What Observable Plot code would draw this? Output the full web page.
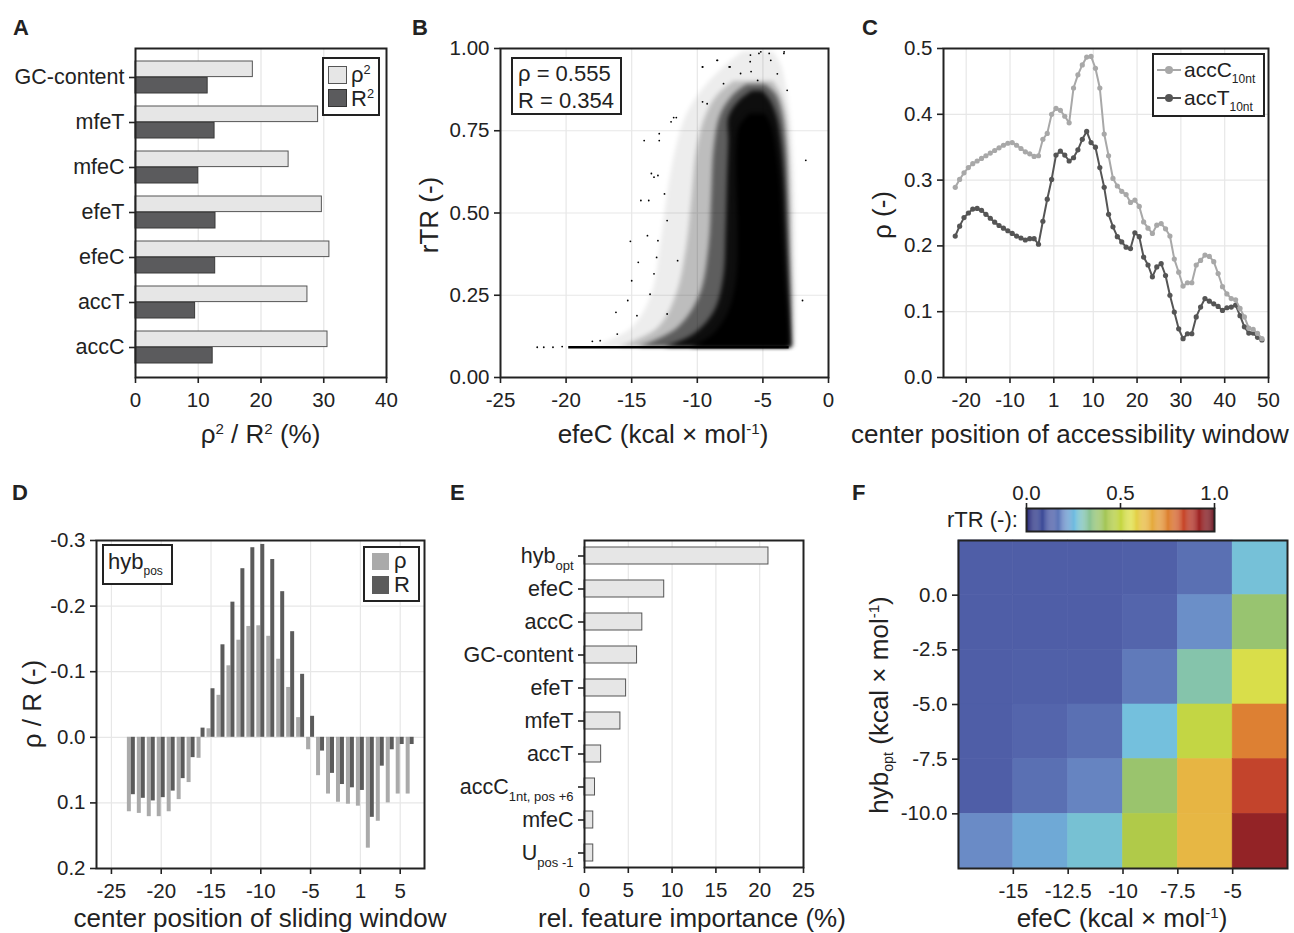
<!DOCTYPE html>
<html>
<head>
<meta charset="utf-8">
<script src="https://cdn.jsdelivr.net/npm/d3@7"></script>
<script src="https://cdn.jsdelivr.net/npm/@observablehq/plot@0.6"></script>
<style>
html,body{margin:0;padding:0;background:#fff}
#fig{position:relative;width:1294px;height:933px;overflow:hidden;font-family:"Liberation Sans",Arial,Helvetica,sans-serif;color:#222;background:#fff}
.t{position:absolute;white-space:nowrap;line-height:1}
.letter{font-size:22px;font-weight:bold}
.title{font-size:26px}
.leg{font-size:22px}
.box{position:absolute;border:2px solid #222;background:#fff;box-sizing:border-box}
.sw{position:absolute;box-sizing:border-box}
.sup{font-size:0.58em;position:relative;top:-0.62em}
.sub{font-size:0.55em;position:relative;top:0.35em}
</style>
</head>
<body>
<div id="fig"></div>
<script>
// ================= DATA =================
// Panel A
const aFeatures = ["GC-content","mfeT","mfeC","efeT","efeC","accT","accC"];
const aRho2 = [18.7, 29.1, 24.4, 29.7, 30.9, 27.4, 30.6];
const aR2   = [11.5, 12.6, 10.0, 12.75, 12.7, 9.5, 12.3];
const aTicks = [0, 10, 20, 30, 40];

// Panel B (point cloud read as density envelopes + individual stray points)
const bStats = ["ρ = 0.555", "R = 0.354"];
const bTicksX = [-25, -20, -15, -10, -5, 0];
const bTicksY = [0, 0.25, 0.5, 0.75, 1];
const bSparse = [
  {y:0.092,left:-18,right:-2.5},{y:0.15,left:-15,right:-2.45},{y:0.25,left:-13.5,right:-2.45},
  {y:0.4,left:-12.8,right:-2.5},{y:0.55,left:-12.3,right:-2.55},{y:0.7,left:-11.6,right:-2.7},
  {y:0.8,left:-10.8,right:-2.9},{y:0.88,left:-9.5,right:-3.2},{y:0.95,left:-7.8,right:-3.6},{y:0.99,left:-6.5,right:-4.2}
];
const bLight = [
  {y:0.092,left:-16,right:-2.65},{y:0.15,left:-13,right:-2.65},{y:0.25,left:-11.6,right:-2.7},
  {y:0.4,left:-10.8,right:-2.8},{y:0.55,left:-10.4,right:-2.85},{y:0.7,left:-10.0,right:-3.0},
  {y:0.8,left:-9.3,right:-3.2},{y:0.86,left:-8.4,right:-3.6},{y:0.9,left:-7.2,right:-4.2}
];
const bMedium = [
  {y:0.092,left:-14.5,right:-2.75},{y:0.15,left:-11.5,right:-2.8},{y:0.25,left:-9.8,right:-2.85},
  {y:0.4,left:-9.1,right:-2.95},{y:0.55,left:-8.9,right:-3.05},{y:0.7,left:-8.7,right:-3.2},
  {y:0.8,left:-8.2,right:-3.5},{y:0.86,left:-7.2,right:-4.0},{y:0.89,left:-6.2,right:-4.8}
];
const bDense = [
  {y:0.092,left:-12.5,right:-2.85},{y:0.13,left:-10.3,right:-2.9},{y:0.2,left:-8.7,right:-2.95},
  {y:0.3,left:-8.0,right:-3.05},{y:0.45,left:-7.8,right:-3.2},{y:0.6,left:-7.7,right:-3.35},
  {y:0.72,left:-7.6,right:-3.6},{y:0.79,left:-7.6,right:-3.9},{y:0.84,left:-6.8,right:-4.4},{y:0.87,left:-5.8,right:-5.0}
];
const bCore = [
  {y:0.092,left:-10.5,right:-3.0},{y:0.13,left:-8.8,right:-3.0},{y:0.2,left:-7.6,right:-3.1},
  {y:0.3,left:-7.0,right:-3.3},{y:0.45,left:-6.9,right:-3.5},{y:0.6,left:-7.0,right:-3.7},
  {y:0.7,left:-7.0,right:-4.0},{y:0.76,left:-6.8,right:-4.3},{y:0.8,left:-6.0,right:-4.8}
];
const bFloor = [{y:0.092, from:-19.8, to:-3}];
const bOutliers = [
  {x:-9.6,y:0.944},{x:-8.46,y:0.964},{x:-7.57,y:0.944},{x:-5.97,y:0.96},{x:-5.9,y:0.93},{x:-5.16,y:0.99},
  {x:-4.52,y:0.985},{x:-3.38,y:0.99},{x:-9.6,y:0.838},{x:-11.6,y:0.79},{x:-12.0,y:0.777},{x:-12.9,y:0.741},
  {x:-14.05,y:0.72},{x:-13.5,y:0.62},{x:-13.0,y:0.614},{x:-14.3,y:0.538},{x:-13.7,y:0.538},{x:-15.1,y:0.414},
  {x:-14.5,y:0.35},{x:-15.0,y:0.294},{x:-15.3,y:0.234},{x:-16.2,y:0.198},{x:-14.6,y:0.188},{x:-1.73,y:0.66},
  {x:-1.98,y:0.234},{x:-13.0,y:0.416},{x:-12.3,y:0.477},{x:-13.3,y:0.315},{x:-11.5,y:0.355},{x:-16.1,y:0.132},
  {x:-17.4,y:0.112},{x:-18.0,y:0.11},{x:-22.2,y:0.092},{x:-21.7,y:0.092},{x:-21.0,y:0.092},{x:-20.3,y:0.094},
  {x:-5.95,y:0.98},{x:-5.3,y:0.985},{x:-4.4,y:0.964},{x:-3.4,y:0.985},{x:-7.5,y:0.944},{x:-6.7,y:0.924},
  {x:-8.5,y:0.964},{x:-9.6,y:0.944},{x:-3.9,y:0.923},{x:-5.4,y:0.903},{x:-8.0,y:0.893},{x:-9.25,y:0.832},
  {x:-3.15,y:0.873},{x:-11.8,y:0.79},{x:-12.9,y:0.72},{x:-13.3,y:0.609},{x:-12.5,y:0.558},{x:-13.8,y:0.431},
  {x:-13.1,y:0.365},{x:-13.6,y:0.253},{x:-12.3,y:0.193}
];

// Panel C (axis index skips position 0)
const cTickIdx = [-20, -10, 0, 9, 19, 29, 39, 49];
const cTickLab = ["-20", "-10", "1", "10", "20", "30", "40", "50"];
const cAccC = [0.289,0.301,0.311,0.319,0.325,0.329,0.333,0.337,0.341,0.345,0.349,0.353,0.356,0.357,0.353,0.348,0.343,0.340,0.336,0.337,
  0.362,0.371,0.400,0.409,0.406,0.397,0.387,0.440,0.460,0.475,0.487,0.488,0.470,0.440,0.370,0.337,0.3025,0.291,0.283,0.278,
  0.266,0.2695,0.260,0.2365,0.227,0.219,0.2315,0.234,0.226,0.215,0.180,0.160,0.139,0.144,0.144,0.171,0.178,0.186,0.184,0.176,
  0.158,0.138,0.127,0.120,0.118,0.105,0.092,0.075,0.073,0.067,0.059];
const cAccT = [0.215,0.230,0.243,0.250,0.256,0.257,0.254,0.248,0.242,0.236,0.231,0.227,0.223,0.219,0.215,0.212,0.209,0.211,0.211,0.2025,
  0.2375,0.271,0.301,0.338,0.344,0.338,0.329,0.334,0.346,0.362,0.374,0.357,0.350,0.319,0.289,0.248,0.229,0.214,0.206,0.198,
  0.196,0.220,0.214,0.183,0.171,0.153,0.168,0.173,0.155,0.125,0.0995,0.074,0.059,0.0665,0.0665,0.092,0.107,0.120,0.116,0.112,
  0.108,0.102,0.106,0.107,0.110,0.094,0.077,0.0675,0.0675,0.061,0.057];
const cIndex = d3.range(-22.5, 48, 1);

// Panel D
const dPos = [-23,-22,-21,-20,-19,-18,-17,-16,-15,-14,-13,-12,-11,-10,-9,-8,-7,-6,-5,-4,-3,-2,-1,1,2,3,4,5,6];
const dRho = [0.1135,0.116,0.121,0.121,0.1135,0.095,0.069,0.032,-0.013,-0.064,-0.109,-0.148,-0.169,-0.170,-0.154,-0.119,-0.076,-0.030,
  0.019,0.0585,0.0865,0.099,0.102,0.105,0.169,0.128,0.100,0.0865,0.0865];
const dR = [0.0875,0.093,0.097,0.092,0.082,0.063,0.031,-0.014,-0.074,-0.141,-0.206,-0.257,-0.289,-0.294,-0.271,-0.222,-0.161,-0.096,
  -0.032,0.021,0.055,0.072,0.077,0.081,0.122,0.044,0.019,0.011,0.011];
const dTickIdx = [-25, -20, -15, -10, -5, 0, 4];
const dTickLab = ["-25", "-20", "-15", "-10", "-5", "1", "5"];
const dTicksY = [-0.3, -0.2, -0.1, 0, 0.1, 0.2];

// Panel E
const eFeatures = ["hyb_opt","efeC","accC","GC-content","efeT","mfeT","accT","accC_1nt, pos +6","mfeC","U_pos -1"];
const eImportance = [21.0, 9.1, 6.6, 6.0, 4.75, 4.1, 1.9, 1.2, 1.0, 1.0];
const eTicks = [0, 5, 10, 15, 20, 25];

// Panel F
const fEfeC = [-17.5, -15, -12.5, -10, -7.5, -5];       // bin lower edges
const fHyb = [0, -2.5, -5, -7.5, -10, -12.5];           // bin lower edges, top row first
const fRTR = [
  [0.13, 0.13, 0.13, 0.135, 0.16, 0.27],
  [0.13, 0.13, 0.13, 0.145, 0.205, 0.38],
  [0.13, 0.135, 0.135, 0.175, 0.315, 0.545],
  [0.13, 0.145, 0.16, 0.265, 0.50, 0.76],
  [0.13, 0.16, 0.19, 0.385, 0.645, 0.85],
  [0.20, 0.234, 0.275, 0.455, 0.64, 0.94]
];
const fTicksX = [-15, -12.5, -10, -7.5, -5];
const fTicksY = [0, -2.5, -5, -7.5, -10];
const cmapStops = [0, 0.07, 0.14, 0.20, 0.26, 0.31, 0.38, 0.45, 0.50, 0.56, 0.62, 0.70, 0.77, 0.84, 0.92, 1.0];
const cmapColors = ["#2a2a78","#3a4794","#5262aa","#6a8bc6","#72c0e2","#84c4b0","#98c470","#aec94a","#c3d644","#e0e04c",
  "#e8bf46","#e4a03c","#dc7b32","#c8482c","#a02828","#6a1420"];

// ================= HELPERS =================
const FONT = '"Liberation Sans", Arial, Helvetica, sans-serif';
const INK = "#222";
const GRID = "#e7e7e7";
const fig = document.getElementById("fig");

function panel(opts, frame, box) {
  const [fx1, fx2, fy1, fy2] = frame;
  const [L, T, W, H] = box;
  const svg = Plot.plot(Object.assign({}, opts, {
    width: W, height: H,
    marginLeft: fx1 - L, marginRight: L + W - fx2,
    marginTop: fy1 - T, marginBottom: T + H - fy2,
    style: {fontFamily: FONT, fontSize: "20.5px", color: INK, background: "transparent", overflow: "visible"}
  }));
  svg.style.position = "absolute";
  svg.style.left = L + "px";
  svg.style.top = T + "px";
  fig.appendChild(svg);
  return svg;
}
function div(inner, style, cls) {
  const d = document.createElement("div");
  d.className = cls || "t";
  d.innerHTML = inner;
  Object.assign(d.style, style);
  fig.appendChild(d);
  return d;
}
const px = v => v + "px";
const fmtInt = d => String(d);
const fmt1 = d => d.toFixed(1);
const fmt2 = d => d.toFixed(2);
const axX = (o) => Plot.axisX(Object.assign({tickSize: 6, tickPadding: 9, label: null, fontSize: 20.5, strokeWidth: 1.6}, o));
const axY = (o) => Plot.axisY(Object.assign({tickSize: 6, tickPadding: 5, label: null, fontSize: 20.5, strokeWidth: 1.6}, o));
const frameMark = () => Plot.frame({stroke: INK, strokeWidth: 2});

// ================= PANEL A =================
const aRows = aFeatures.map((f, i) => ({feature: f, rho2: aRho2[i], R2: aR2[i]}));
panel({
  x: {domain: [0, 40]},
  y: {domain: aFeatures, paddingInner: 0.28, paddingOuter: 0.25},
  marks: [
    Plot.gridX([10, 20, 30], {stroke: GRID, strokeOpacity: 1, strokeWidth: 1.3}),
    Plot.barX(aRows, {y: "feature", x: "rho2", fill: "#e6e6e6", stroke: "#555", strokeWidth: 1, insetBottom: 16.4}),
    Plot.barX(aRows, {y: "feature", x: "R2", fill: "#5b5b5d", stroke: "#3a3a3a", strokeWidth: 1, insetTop: 16.4}),
    axX({ticks: aTicks, tickFormat: fmtInt}),
    axY({fontSize: 21.5}),
    frameMark()
  ]
}, [135, 386, 48, 377], [0, 30, 410, 400]);

// ================= PANEL B =================
const bLayers = [[bSparse, 0.07], [bLight, 0.2], [bMedium, 0.5], [bDense, 0.85], [bCore, 1]];
const bSvg = panel({
  x: {domain: [-25, 0]},
  y: {domain: [0, 1]},
  marks: [
    Plot.gridX([-20, -15, -10, -5], {stroke: GRID, strokeOpacity: 1, strokeWidth: 1.2}),
    Plot.gridY([0.25, 0.5, 0.75], {stroke: GRID, strokeOpacity: 1, strokeWidth: 1.2}),
    ...bLayers.map(([rows, op]) => Plot.areaX(rows, {y: "y", x1: "left", x2: "right", fill: "#000", fillOpacity: op, curve: "catmull-rom"})),
    Plot.ruleY(bFloor, {y: "y", x1: "from", x2: "to", stroke: "#000", strokeWidth: 2.5}),
    Plot.dot(bOutliers, {x: "x", y: "y", r: 0.9, fill: "#000"}),
    axX({ticks: bTicksX, tickFormat: fmtInt}),
    axY({ticks: bTicksY, tickFormat: fmt2}),
    frameMark()
  ]
}, [500, 828, 48, 377], [420, 30, 430, 400]);
bSvg.querySelectorAll('g[aria-label="area"]').forEach(g => g.style.filter = "blur(2.2px)");

// ================= PANEL C =================
const cRows = cIndex.map((i, k) => ({i, accC: cAccC[k], accT: cAccT[k]}));
panel({
  x: {domain: [-25.18, 49]},
  y: {domain: [0, 0.5]},
  marks: [
    Plot.gridX(cTickIdx.slice(0, -1), {stroke: GRID, strokeOpacity: 1, strokeWidth: 1.2}),
    Plot.gridY([0.1, 0.2, 0.3, 0.4], {stroke: GRID, strokeOpacity: 1, strokeWidth: 1.2}),
    Plot.line(cRows, {x: "i", y: "accT", stroke: "#555", strokeWidth: 2}),
    Plot.dot(cRows, {x: "i", y: "accT", fill: "#555", r: 2.6}),
    Plot.line(cRows, {x: "i", y: "accC", stroke: "#a8a8a8", strokeWidth: 2}),
    Plot.dot(cRows, {x: "i", y: "accC", fill: "#a8a8a8", r: 2.6}),
    axX({ticks: cTickIdx, tickFormat: d => cTickLab[cTickIdx.indexOf(d)]}),
    axY({ticks: [0, 0.1, 0.2, 0.3, 0.4, 0.5], tickFormat: fmt1}),
    frameMark()
  ]
}, [943, 1268, 48, 377], [860, 30, 434, 400]);

// ================= PANEL D =================
const dIdx = p => (p < 0 ? p : p - 1);
const dRows = dPos.map((p, k) => ({x: dIdx(p), rho: dRho[k], R: dR[k]}));
panel({
  x: {domain: [-26.5, 6.44]},
  y: {domain: [0.2, -0.3]},
  marks: [
    Plot.gridX(dTickIdx, {stroke: GRID, strokeOpacity: 1, strokeWidth: 1.2}),
    Plot.gridY(dTicksY, {stroke: GRID, strokeOpacity: 1, strokeWidth: 1.2}),
    Plot.rect(dRows, {x1: d => d.x - 0.4, x2: d => d.x, y1: () => 0, y2: "rho", fill: "#aaaaaa"}),
    Plot.rect(dRows, {x1: d => d.x, x2: d => d.x + 0.4, y1: () => 0, y2: "R", fill: "#5b5b5b"}),
    axX({ticks: dTickIdx, tickFormat: d => dTickLab[dTickIdx.indexOf(d)]}),
    axY({ticks: dTicksY, tickFormat: fmt1}),
    frameMark()
  ]
}, [96, 424, 540, 868], [0, 520, 440, 400]);

// ================= PANEL E =================
const eRows = eFeatures.map((f, i) => ({feature: f, imp: eImportance[i]}));
const eSvg = panel({
  x: {domain: [0, 25]},
  y: {domain: eFeatures, paddingInner: 0.5, paddingOuter: 0.2},
  marks: [
    Plot.gridX([5, 10, 15, 20], {stroke: GRID, strokeOpacity: 1, strokeWidth: 1.2}),
    Plot.barX(eRows, {y: "feature", x: "imp", fill: "#e6e6e6", stroke: "#555", strokeWidth: 1}),
    axX({ticks: eTicks, tickFormat: fmtInt}),
    axY({fontSize: 21.5}),
    frameMark()
  ]
}, [584, 803, 540, 867], [440, 520, 400, 400]);
eSvg.querySelectorAll("text").forEach(t => {
  const s = t.textContent;
  const k = s.indexOf("_");
  if (k < 0) return;
  t.textContent = "";
  const NS = "http://www.w3.org/2000/svg";
  const a = document.createElementNS(NS, "tspan");
  a.textContent = s.slice(0, k);
  const b = document.createElementNS(NS, "tspan");
  b.textContent = s.slice(k + 1);
  b.setAttribute("font-size", "13");
  b.setAttribute("dy", "7");
  t.append(a, b);
});

// ================= PANEL F =================
const fCells = [];
fHyb.forEach((h, i) => fEfeC.forEach((e, j) => fCells.push({x1: e, x2: e + 2.5, y1: h, y2: h + 2.5, v: fRTR[i][j]})));
const colorScale = {type: "linear", domain: cmapStops, range: cmapColors};
panel({
  x: {domain: [-17.5, -2.5]},
  y: {domain: [-12.5, 2.5]},
  color: colorScale,
  marks: [
    Plot.rect(fCells, {x1: "x1", x2: "x2", y1: "y1", y2: "y2", fill: "v", stroke: "v", strokeWidth: 0.6}),
    axX({ticks: fTicksX, tickFormat: fmtInt}),
    axY({ticks: fTicksY, tickFormat: fmt1}),
    frameMark()
  ]
}, [958, 1287, 540, 868], [880, 520, 414, 400]);

// colour bar
const cbarSteps = d3.range(0, 1, 0.005);
panel({
  x: {domain: [0, 1]},
  y: {domain: [0, 1], axis: null},
  color: colorScale,
  marks: [
    Plot.rect(cbarSteps, {x1: d => d, x2: d => Math.min(1, d + 0.0056), y1: () => 0, y2: () => 1, fill: d => d + 0.0025}),
    Plot.axisX({anchor: "top", ticks: [0, 0.5, 1], tickFormat: fmt1, tickSize: 6, tickPadding: 3, label: null, fontSize: 20.5, strokeWidth: 1.6}),
    frameMark()
  ]
}, [1026, 1214, 508, 531], [1000, 470, 240, 70]);

// ================= TEXT: letters, titles, legends =================
[["A",13,17],["B",412,17],["C",862,17],["D",12,482],["E",450,482],["F",852,482]].forEach(([s,x,y]) =>
  div(s, {left: px(x), top: px(y)}, "t letter"));

function hTitle(s, cx, cy) { return div(s, {left: px(cx), top: px(cy), transform: "translate(-50%,-50%)"}, "t title"); }
function vTitle(s, cx, cy) { return div(s, {left: px(cx), top: px(cy), transform: "translate(-50%,-50%) rotate(-90deg)"}, "t title"); }
hTitle('ρ<span class="sup">2</span> / R<span class="sup">2</span> (%)', 260.5, 434);
hTitle('efeC (kcal × mol<span class="sup">-1</span>)', 663, 434);
vTitle('rTR (-)', 429, 215);
div('center position of accessibility window', {left: px(851), top: px(434), transform: "translateY(-50%)"}, "t title");
vTitle('ρ (-)', 882, 215);
hTitle('center position of sliding window', 260, 918);
vTitle('ρ / R (-)', 32, 704);
hTitle('rel. feature importance (%)', 692, 918);
hTitle('efeC (kcal × mol<span class="sup">-1</span>)', 1122, 918);
vTitle('hyb<span class="sub">opt</span> (kcal × mol<span class="sup">-1</span>)', 879, 705);
div('rTR (-):', {left: px(947), top: px(520), transform: "translateY(-50%)", fontSize: "22px"}, "t");

// Legend A
div("", {left: px(322), top: px(57), width: px(58), height: px(59)}, "box");
div("", {left: px(328), top: px(66), width: px(19), height: px(18), background: "#e6e6e6", border: "1.5px solid #555"}, "sw");
div("", {left: px(328), top: px(89), width: px(19), height: px(18), background: "#5b5b5d", border: "1.5px solid #333"}, "sw");
div('ρ<span class="sup">2</span>', {left: px(351), top: px(64)}, "t leg");
div('R<span class="sup">2</span>', {left: px(351), top: px(88)}, "t leg");

// Stats box B
div("", {left: px(511), top: px(57), width: px(111), height: px(58)}, "box");
bStats.forEach((s, i) => div(s, {left: px(518), top: px(63 + i * 27)}, "t leg"));

// Legend C
div("", {left: px(1152), top: px(53), width: px(113), height: px(64)}, "box");
[["#a8a8a8", "accC", 70], ["#555", "accT", 98]].forEach(([c, s, y]) => {
  div("", {left: px(1157), top: px(y - 1), width: px(24), height: px(2), background: c}, "sw");
  div("", {left: px(1165), top: px(y - 4), width: px(8), height: px(8), background: c, borderRadius: "50%"}, "sw");
  div(s + '<span style="font-size:12px;position:relative;top:6px">10nt</span>', {left: px(1184), top: px(y - 11), fontSize: "21px"}, "t");
});

// Legend D
div("", {left: px(363), top: px(546), width: px(57), height: px(56)}, "box");
div("", {left: px(372), top: px(553), width: px(17), height: px(17), background: "#aaaaaa"}, "sw");
div("", {left: px(372), top: px(576), width: px(17), height: px(18), background: "#5b5b5b"}, "sw");
div("ρ", {left: px(394), top: px(550)}, "t leg");
div("R", {left: px(394), top: px(574)}, "t leg");
div("", {left: px(102), top: px(544), width: px(71), height: px(41)}, "box");
div('hyb<span style="font-size:12px;position:relative;top:6px">pos</span>', {left: px(108), top: px(551)}, "t leg");
</script>
</body>
</html>
